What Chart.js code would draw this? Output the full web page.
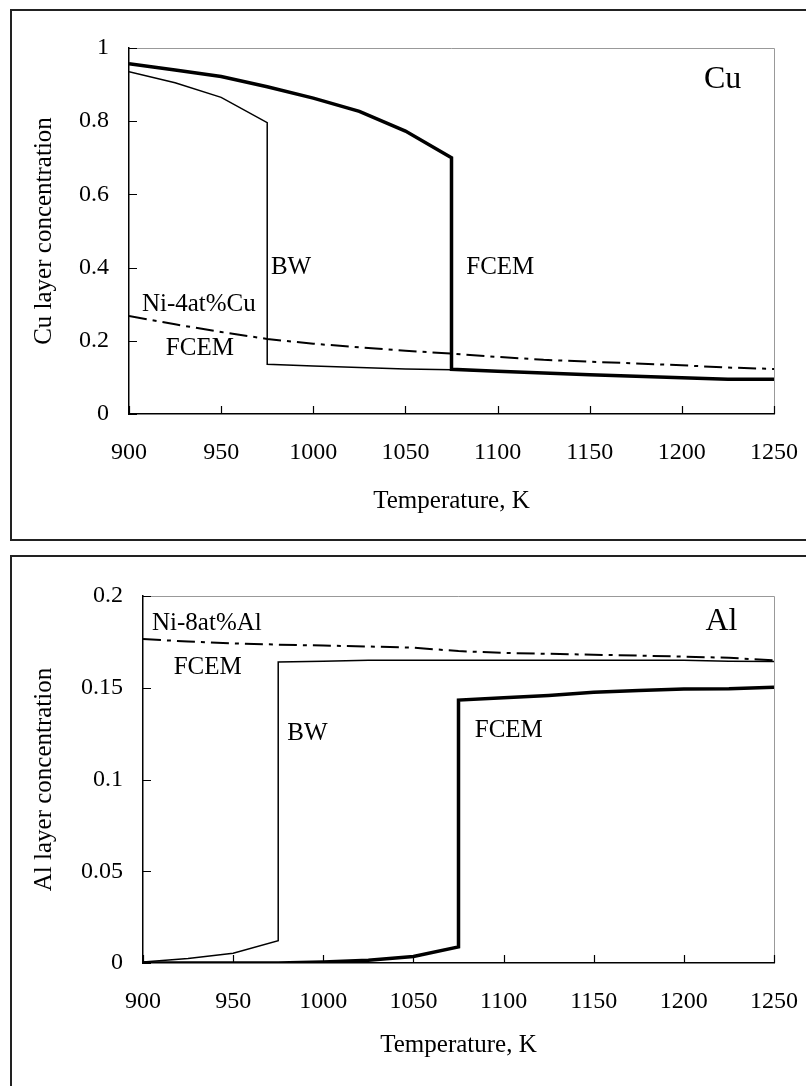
<!DOCTYPE html>
<html>
<head>
<meta charset="utf-8">
<script src="https://cdn.jsdelivr.net/npm/chart.js@4.4.1/dist/chart.umd.min.js"></script>
<style>
  body { margin: 0; background: #fff; overflow: hidden; width: 806px; height: 1086px; position: relative; }
  .frame { position: absolute; left: 10px; width: 900px; border: 2px solid #222; }
  canvas { position: absolute; left: 0; }
</style>
</head>
<body>
<div class="frame" style="top: 9px; height: 528px;"></div>
<div class="frame" style="top: 555px; height: 600px;"></div>
<canvas id="cuChart" width="806" height="545" style="top: 0;"></canvas>
<canvas id="alChart" width="806" height="541" style="top: 545px;"></canvas>
<script>
// Temperatures (K)
const tempSteps = [900, 925, 950, 975, 1000, 1025, 1050, 1075, 1100, 1125, 1150, 1175, 1200, 1225, 1250];
const xTicks = [900, 950, 1000, 1050, 1100, 1150, 1200, 1250];

// Cu panel
const cuFcemT = [900, 925, 950, 975, 1000, 1025, 1050, 1075, 1075, 1100, 1125, 1150, 1175, 1200, 1225, 1250];
const cuFcem = [0.957, 0.940, 0.922, 0.894, 0.863, 0.827, 0.773, 0.700, 0.122, 0.117, 0.112, 0.107, 0.103, 0.099, 0.095, 0.095];
const cuBwT = [900, 925, 950, 975, 975, 1000, 1025, 1050, 1075, 1100, 1125, 1150, 1175, 1200, 1225, 1250];
const cuBw = [0.935, 0.905, 0.865, 0.796, 0.136, 0.131, 0.127, 0.123, 0.121, 0.117, 0.112, 0.107, 0.103, 0.099, 0.095, 0.095];
const cuAlloy = [0.268, 0.245, 0.224, 0.205, 0.192, 0.182, 0.173, 0.165, 0.156, 0.148, 0.143, 0.138, 0.133, 0.127, 0.123];
const cuYTicks = [0, 0.2, 0.4, 0.6, 0.8, 1];

// Al panel
const alFcemT = [900, 925, 950, 975, 1000, 1025, 1050, 1075, 1075, 1100, 1125, 1150, 1175, 1200, 1225, 1250];
const alFcem = [0, 0, 0, 0, 0.0005, 0.0015, 0.0035, 0.0088, 0.1433, 0.1445, 0.1458, 0.1475, 0.1485, 0.1493, 0.1495, 0.1503];
const alBwT = [900, 925, 950, 975, 975, 1000, 1025, 1050, 1075, 1100, 1125, 1150, 1175, 1200, 1225, 1250];
const alBw = [0.0005, 0.0025, 0.0053, 0.0122, 0.1640, 0.1645, 0.1650, 0.1650, 0.1650, 0.1650, 0.1650, 0.1650, 0.1650, 0.1650, 0.1645, 0.1643];
const alAlloy = [0.1765, 0.1752, 0.1742, 0.1735, 0.1730, 0.1725, 0.1718, 0.1700, 0.1690, 0.1685, 0.1680, 0.1675, 0.1670, 0.1663, 0.1650];
const alYTicks = [0, 0.05, 0.1, 0.15, 0.2];

// Text labels inside the plots (anchored in data units)
const cuLabels = [
    { text: 'Cu', x: 1212, y: 0.913, size: 32 },
    { text: 'BW', x: 977, y: 0.40, size: 25 },
    { text: 'FCEM', x: 1083, y: 0.40, size: 25 },
    { text: 'Ni-4at%Cu', x: 907, y: 0.298, size: 25 },
    { text: 'FCEM', x: 920, y: 0.180, size: 25 }
];
const alLabels = [
    { text: 'Al', x: 1212, y: 0.1858, size: 32 },
    { text: 'Ni-8at%Al', x: 905, y: 0.1853, size: 25 },
    { text: 'FCEM', x: 917, y: 0.1608, size: 25 },
    { text: 'BW', x: 980, y: 0.1253, size: 25 },
    { text: 'FCEM', x: 1084, y: 0.1270, size: 25 }
];

const FONT = "'Liberation Serif', 'Times New Roman', serif";

function toPoints(xs, ys) {
    return xs.map((x, i) => ({ x: x, y: ys[i] }));
}

// Gray top/right frame, inward tick marks and text labels
const decorPlugin = {
    id: 'decor',
    beforeDatasetsDraw(chart) {
        const { ctx, chartArea: a } = chart;
        ctx.save();
        ctx.strokeStyle = '#999';
        ctx.lineWidth = 1;
        ctx.beginPath();
        ctx.moveTo(a.left, a.top + 0.5);
        ctx.lineTo(a.right + 0.5, a.top + 0.5);
        ctx.lineTo(a.right + 0.5, a.bottom);
        ctx.stroke();
        ctx.restore();
    },
    afterDraw(chart, args, opts) {
        const { ctx, chartArea: a, scales } = chart;
        ctx.save();
        ctx.strokeStyle = '#000';
        ctx.lineWidth = 1.2;
        ctx.beginPath();
        scales.x.ticks.forEach(t => {
            const px = Math.round(scales.x.getPixelForValue(t.value)) + 0.5;
            ctx.moveTo(px, a.bottom);
            ctx.lineTo(px, a.bottom - 8);
        });
        scales.y.ticks.forEach(t => {
            const py = Math.round(scales.y.getPixelForValue(t.value)) + 0.5;
            ctx.moveTo(a.left, py);
            ctx.lineTo(a.left + 8, py);
        });
        ctx.stroke();

        ctx.fillStyle = '#000';
        ctx.textAlign = 'left';
        ctx.textBaseline = 'middle';
        (opts.labels || []).forEach(l => {
            ctx.font = l.size + 'px ' + FONT;
            ctx.fillText(l.text, scales.x.getPixelForValue(l.x), scales.y.getPixelForValue(l.y));
        });
        ctx.restore();
    }
};

function makeChart(id, cfg) {
    const ctx = document.getElementById(id).getContext('2d');
    return new Chart(ctx, {
        type: 'line',
        data: {
            datasets: [
                {
                    data: toPoints(cfg.bwT, cfg.bw),
                    borderColor: '#000',
                    borderWidth: 1.5
                },
                {
                    data: toPoints(cfg.fcemT, cfg.fcem),
                    borderColor: '#000',
                    borderWidth: 3.5
                },
                {
                    data: toPoints(tempSteps, cfg.alloy),
                    borderColor: '#000',
                    borderWidth: 2,
                    borderDash: [18, 6, 4, 6]
                }
            ]
        },
        options: {
            responsive: false,
            animation: false,
            devicePixelRatio: 1,
            elements: { point: { radius: 0 }, line: { tension: 0, fill: false } },
            layout: { padding: { top: cfg.padTop, right: 32, left: 0, bottom: 0 } },
            plugins: {
                legend: { display: false },
                tooltip: { enabled: false },
                decor: { labels: cfg.labels }
            },
            scales: {
                x: {
                    type: 'linear',
                    min: 900,
                    max: 1250,
                    afterBuildTicks: s => { s.ticks = xTicks.map(v => ({ value: v })); },
                    afterFit: s => {
                        s.height = cfg.xHeight;
                        s.paddingLeft = 0;
                        s.paddingRight = 0;
                    },
                    grid: { display: false, drawTicks: false },
                    border: { display: true, color: '#000', width: 1.5 },
                    ticks: {
                        color: '#000',
                        font: { family: FONT, size: 24 },
                        padding: 24,
                        maxRotation: 0,
                        callback: v => String(v)
                    },
                    title: {
                        display: true,
                        text: 'Temperature, K',
                        color: '#000',
                        font: { family: FONT, size: 25 },
                        padding: { top: 0, bottom: cfg.xTitlePad }
                    }
                },
                y: {
                    type: 'linear',
                    min: cfg.yTicks[0],
                    max: cfg.yTicks[cfg.yTicks.length - 1],
                    afterBuildTicks: s => { s.ticks = cfg.yTicks.map(v => ({ value: v })); },
                    afterFit: s => {
                        s.width = cfg.yWidth;
                        s.paddingTop = 0;
                        s.paddingBottom = 0;
                    },
                    grid: { display: false, drawTicks: false },
                    border: { display: true, color: '#000', width: 1.5 },
                    ticks: {
                        color: '#000',
                        font: { family: FONT, size: 24 },
                        padding: 20,
                        callback: v => String(v)
                    },
                    title: {
                        display: true,
                        text: cfg.yTitle,
                        color: '#000',
                        font: { family: FONT, size: 25 },
                        padding: { top: 29, bottom: 0 }
                    }
                }
            }
        },
        plugins: [decorPlugin]
    });
}

makeChart('cuChart', {
    bwT: cuBwT, bw: cuBw, fcemT: cuFcemT, fcem: cuFcem, alloy: cuAlloy,
    yTicks: cuYTicks, yTitle: 'Cu layer concentration', labels: cuLabels,
    padTop: 48, xHeight: 131, yWidth: 129, xTitlePad: 29
});

makeChart('alChart', {
    bwT: alBwT, bw: alBw, fcemT: alFcemT, fcem: alFcem, alloy: alAlloy,
    yTicks: alYTicks, yTitle: 'Al layer concentration', labels: alLabels,
    padTop: 51, xHeight: 123, yWidth: 143, xTitlePad: 26
});
</script>
</body>
</html>
